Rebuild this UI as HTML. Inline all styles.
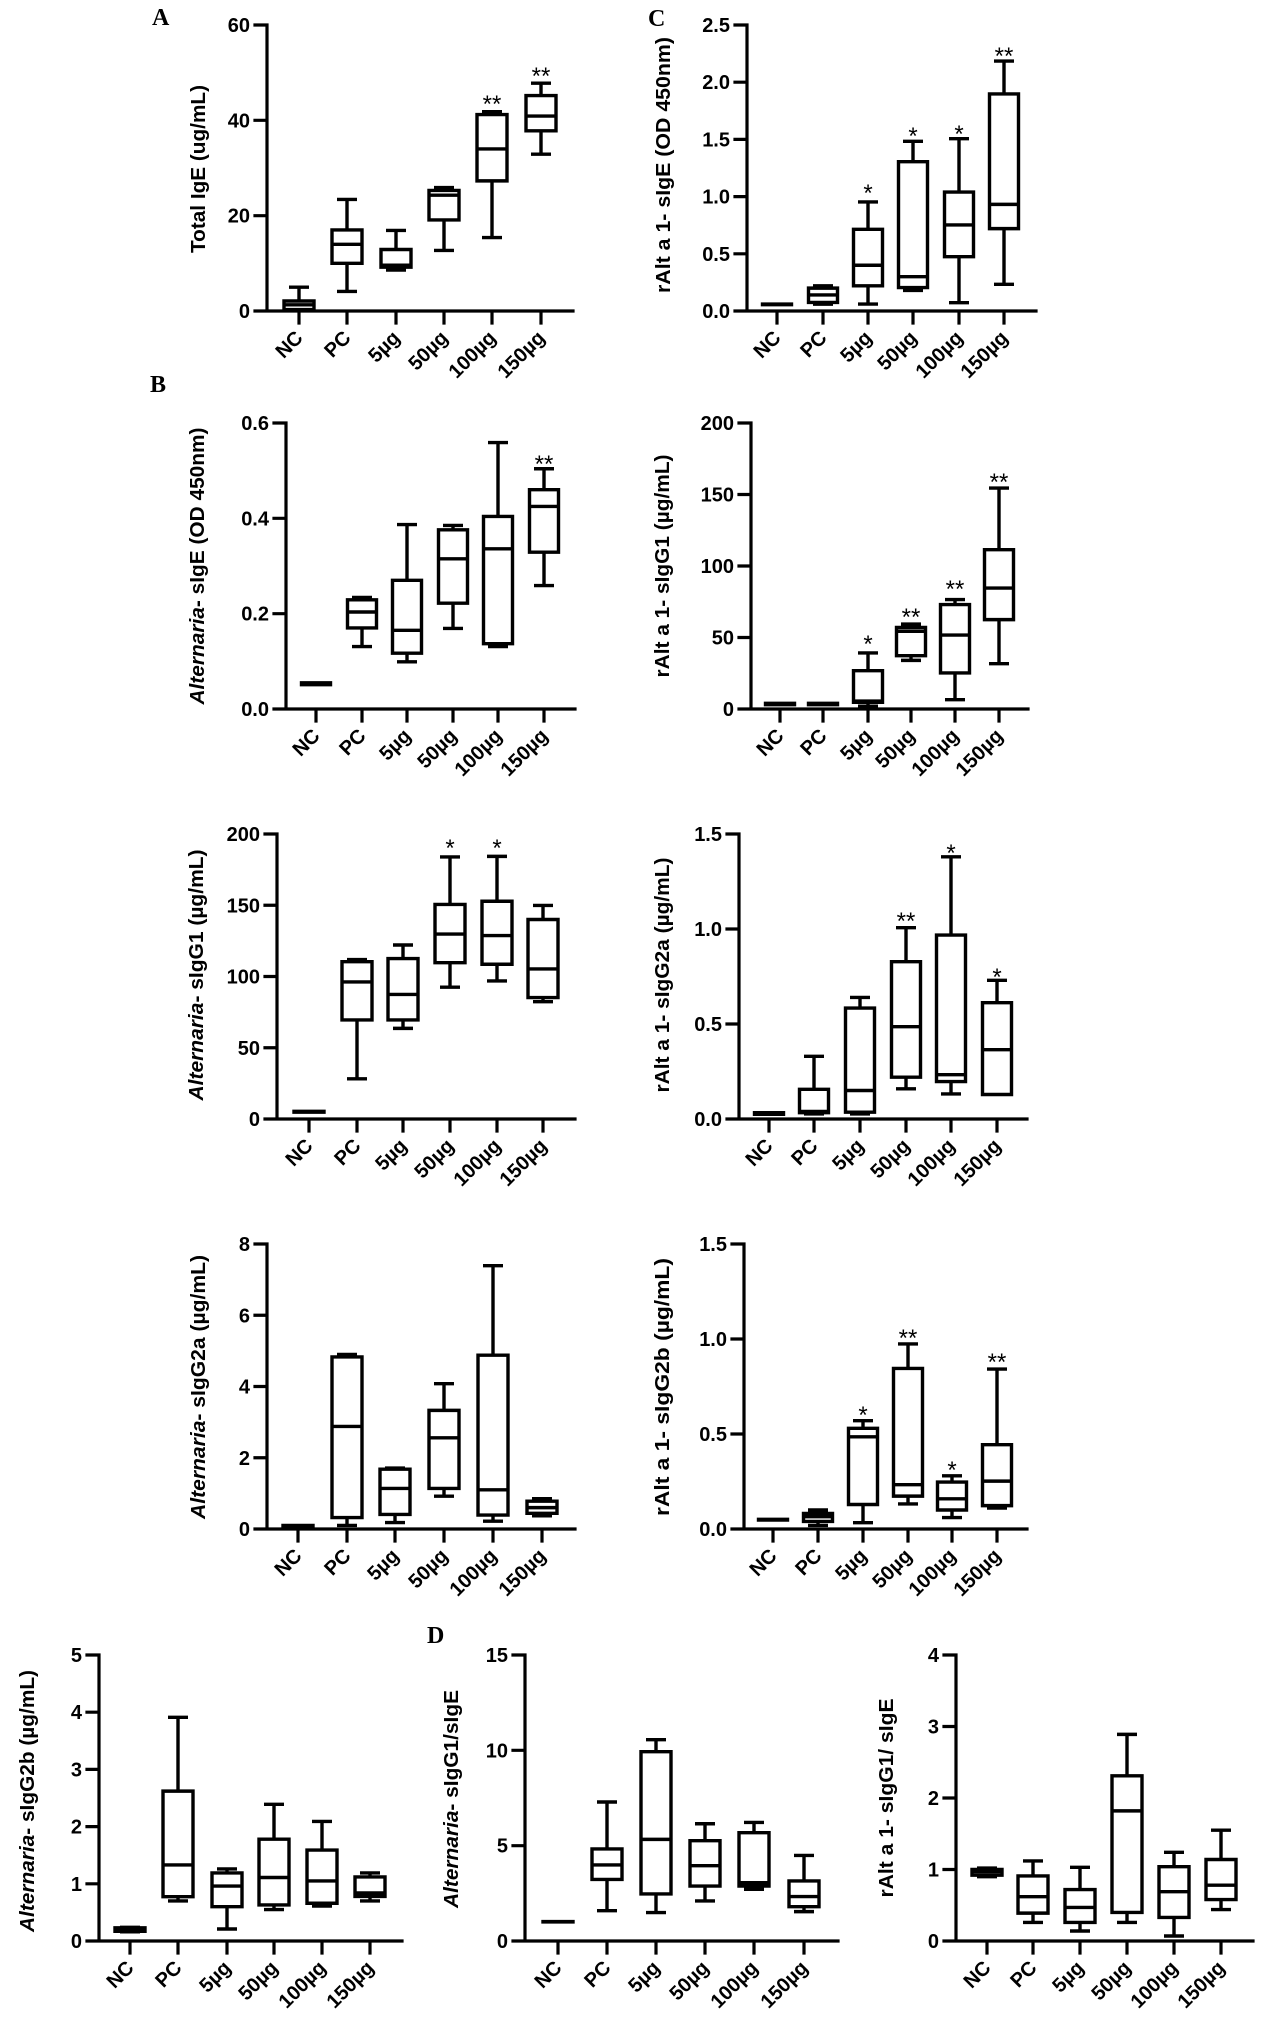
<!DOCTYPE html>
<html><head><meta charset="utf-8"><style>
html,body{margin:0;padding:0;background:#fff;}
svg{display:block;}
.bx path{fill:none;stroke:#000;stroke-width:3.4;vector-effect:non-scaling-stroke;stroke-linejoin:miter;}
.ax{fill:none;stroke:#000;stroke-width:3.2;stroke-linecap:square;}
.tl{font-family:"Liberation Sans",Arial,sans-serif;font-weight:bold;font-size:20px;text-anchor:end;fill:#000;}
.xl{font-family:"Liberation Sans",Arial,sans-serif;font-weight:bold;font-size:20px;text-anchor:end;fill:#000;}
.ti{font-family:"Liberation Sans",Arial,sans-serif;font-weight:bold;font-size:20px;text-anchor:middle;fill:#000;}
.st{font-family:"Liberation Sans",Arial,sans-serif;font-size:24px;text-anchor:middle;fill:#000;}
.lt{font-family:"Liberation Serif","Times New Roman",serif;font-weight:bold;font-size:24px;fill:#000;}
</style></head><body>
<svg width="1270" height="2023" viewBox="0 0 1270 2023" xmlns="http://www.w3.org/2000/svg">
<rect width="1270" height="2023" fill="#fff"/>

<!-- letters -->
<text class="lt" x="152" y="25">A</text>
<text class="lt" x="648" y="26">C</text>
<text class="lt" x="150" y="392">B</text>
<text class="lt" x="427" y="1643">D</text>

<!-- ============ Panel A ============ -->
<path class="ax" d="M267,25V311M255,311H573M255,25H267M255,120.3H267M255,215.7H267M299,311V323M347,311V323M396,311V323M444,311V323M492,311V323M541,311V323"/>
<text class="tl" x="250" y="318">0</text><text class="tl" x="250" y="222.7">20</text><text class="tl" x="250" y="127.3">40</text><text class="tl" x="250" y="32">60</text>
<g class="bx" transform="translate(0,311) scale(1,-4.7667)">
<path d="M284,0.3H314V2.1H284ZM299,0.2V0.3M299,2.1V5M289,0.2H309M289,5H309M284,1.3H314"/>
<path d="M332,10H362V17H332ZM347,4.1V10M347,17V23.4M337,4.1H357M337,23.4H357M332,14H362"/>
<path d="M381,9.2H411V12.9H381ZM396,8.6V9.2M396,12.9V16.9M386,8.6H406M386,16.9H406M381,9.6H411"/>
<path d="M429,19.1H459V25.3H429ZM444,12.7V19.1M444,25.3V25.9M434,12.7H454M434,25.9H454M429,24.3H459"/>
<path d="M477,27.3H507V41.2H477ZM492,15.4V27.3M492,41.2V41.8M482,15.4H502M482,41.8H502M477,34H507"/>
<path d="M526,37.8H556V45.2H526ZM541,32.9V37.8M541,45.2V47.8M531,32.9H551M531,47.8H551M526,40.9H556"/>
</g>
<text class="st" x="492" y="112">**</text><text class="st" x="541" y="84">**</text>
<text class="ti" transform="translate(205,169) rotate(-90)" textLength="168" lengthAdjust="spacingAndGlyphs">Total IgE (ug/mL)</text>
<g class="xl">
<text transform="translate(304,339) rotate(-45)">NC</text>
<text transform="translate(352,339) rotate(-45)">PC</text>
<text transform="translate(401,339) rotate(-45)">5µg</text>
<text transform="translate(449,339) rotate(-45)">50µg</text>
<text transform="translate(497,339) rotate(-45)">100µg</text>
<text transform="translate(546,339) rotate(-45)">150µg</text>
</g>

<!-- ============ Panel C ============ -->
<path class="ax" d="M747,25V311M735,311H1036M735,25H747M735,82.2H747M735,139.4H747M735,196.6H747M735,253.8H747M777,311V323M823,311V323M868,311V323M913,311V323M959,311V323M1004,311V323"/>
<text class="tl" x="730" y="318">0.0</text><text class="tl" x="730" y="260.8">0.5</text><text class="tl" x="730" y="203.6">1.0</text><text class="tl" x="730" y="146.4">1.5</text><text class="tl" x="730" y="89.2">2.0</text><text class="tl" x="730" y="32">2.5</text>
<g class="bx" transform="translate(0,311) scale(1,-114.4)">
<path d="M762.5,0.055H791.5V0.06H762.5ZM762.5,0.058H791.5"/>
<path d="M808.5,0.075H837.5V0.2H808.5ZM823,0.06V0.075M823,0.2V0.22M813,0.06H833M813,0.22H833M808.5,0.14H837.5"/>
<path d="M853.5,0.22H882.5V0.714H853.5ZM868,0.061V0.22M868,0.714V0.953M858,0.061H878M858,0.953H878M853.5,0.40H882.5"/>
<path d="M898.5,0.205H927.5V1.305H898.5ZM913,0.18V0.205M913,1.305V1.483M903,0.18H923M903,1.483H923M898.5,0.30H927.5"/>
<path d="M944.5,0.475H973.5V1.04H944.5ZM959,0.073V0.475M959,1.04V1.506M949,0.073H969M949,1.506H969M944.5,0.752H973.5"/>
<path d="M989.5,0.72H1018.5V1.897H989.5ZM1004,0.233V0.72M1004,1.897V2.185M994,0.233H1014M994,2.185H1014M989.5,0.932H1018.5"/>
</g>
<text class="st" x="868" y="201">*</text><text class="st" x="913" y="144">*</text><text class="st" x="959" y="142">*</text><text class="st" x="1004" y="64">**</text>
<text class="ti" transform="translate(670,165) rotate(-90)" textLength="256" lengthAdjust="spacingAndGlyphs">rAlt a 1- sIgE (OD 450nm)</text>
<g class="xl">
<text transform="translate(782,339) rotate(-45)">NC</text>
<text transform="translate(828,339) rotate(-45)">PC</text>
<text transform="translate(873,339) rotate(-45)">5µg</text>
<text transform="translate(918,339) rotate(-45)">50µg</text>
<text transform="translate(964,339) rotate(-45)">100µg</text>
<text transform="translate(1009,339) rotate(-45)">150µg</text>
</g>

<!-- ============ Panel B sIgE ============ -->
<path class="ax" d="M286,423V709M274,709H575M274,423H286M274,518.33H286M274,613.67H286M316,709V721M362,709V721M407,709V721M453,709V721M498,709V721M544,709V721"/>
<text class="tl" x="269" y="716">0.0</text><text class="tl" x="269" y="620.7">0.2</text><text class="tl" x="269" y="525.3">0.4</text><text class="tl" x="269" y="430">0.6</text>
<g class="bx" transform="translate(0,709) scale(1,-476.67)">
<path d="M301.5,0.051H330.5V0.055H301.5ZM301.5,0.053H330.5"/>
<path d="M347.5,0.170H376.5V0.229H347.5ZM362,0.131V0.170M362,0.229V0.234M352,0.131H372M352,0.234H372M347.5,0.2035H376.5"/>
<path d="M392.5,0.117H421.5V0.27H392.5ZM407,0.099V0.117M407,0.27V0.387M397,0.099H417M397,0.387H417M392.5,0.165H421.5"/>
<path d="M438.5,0.222H467.5V0.376H438.5ZM453,0.169V0.222M453,0.376V0.385M443,0.169H463M443,0.385H463M438.5,0.315H467.5"/>
<path d="M483.5,0.137H512.5V0.404H483.5ZM498,0.131V0.137M498,0.404V0.559M488,0.131H508M488,0.559H508M483.5,0.336H512.5"/>
<path d="M529.5,0.329H558.5V0.46H529.5ZM544,0.259V0.329M544,0.46V0.504M534,0.259H554M534,0.504H554M529.5,0.425H558.5"/>
</g>
<text class="st" x="544" y="472">**</text>
<text class="ti" transform="translate(204,566) rotate(-90)" textLength="277" lengthAdjust="spacingAndGlyphs"><tspan font-style="italic">Alternaria</tspan>- sIgE (OD 450nm)</text>
<g class="xl">
<text transform="translate(321,737) rotate(-45)">NC</text>
<text transform="translate(367,737) rotate(-45)">PC</text>
<text transform="translate(412,737) rotate(-45)">5µg</text>
<text transform="translate(458,737) rotate(-45)">50µg</text>
<text transform="translate(503,737) rotate(-45)">100µg</text>
<text transform="translate(549,737) rotate(-45)">150µg</text>
</g>

<!-- ============ Row2 right rAlt sIgG1 ============ -->
<path class="ax" d="M751,423V709M739,709H1028M739,423H751M739,494.5H751M739,566H751M739,637.5H751M780,709V721M823,709V721M868,709V721M911,709V721M955,709V721M999,709V721"/>
<text class="tl" x="734" y="716">0</text><text class="tl" x="734" y="644.5">50</text><text class="tl" x="734" y="573">100</text><text class="tl" x="734" y="501.5">150</text><text class="tl" x="734" y="430">200</text>
<g class="bx" transform="translate(0,709) scale(1,-1.43)">
<path d="M765.5,3H794.5V4H765.5ZM765.5,3.5H794.5"/>
<path d="M808.5,3H837.5V4H808.5ZM808.5,3.5H837.5"/>
<path d="M853.5,4.7H882.5V26.8H853.5ZM868,2V4.7M868,26.8V39.2M858,2H878M858,39.2H878M853.5,5.5H882.5"/>
<path d="M896.5,37.3H925.5V57H896.5ZM911,34V37.3M911,57V59.4M901,34H921M901,59.4H921M896.5,54.3H925.5"/>
<path d="M940.5,25.2H969.5V73H940.5ZM955,6.5V25.2M955,73V76.5M945,6.5H965M945,76.5H965M940.5,51.7H969.5"/>
<path d="M984.5,62.5H1013.5V111.4H984.5ZM999,31.7V62.5M999,111.4V154.5M989,31.7H1009M989,154.5H1009M984.5,84.6H1013.5"/>
</g>
<text class="st" x="868" y="652">*</text><text class="st" x="911" y="625">**</text><text class="st" x="955" y="597">**</text><text class="st" x="999" y="490">**</text>
<text class="ti" transform="translate(669,566) rotate(-90)" textLength="223" lengthAdjust="spacingAndGlyphs">rAlt a 1- sIgG1 (µg/mL)</text>
<g class="xl">
<text transform="translate(785,737) rotate(-45)">NC</text>
<text transform="translate(828,737) rotate(-45)">PC</text>
<text transform="translate(873,737) rotate(-45)">5µg</text>
<text transform="translate(916,737) rotate(-45)">50µg</text>
<text transform="translate(960,737) rotate(-45)">100µg</text>
<text transform="translate(1004,737) rotate(-45)">150µg</text>
</g>

<!-- ============ Row3 left Alternaria sIgG1 ============ -->
<path class="ax" d="M277,834V1119M265,1119H575M265,834H277M265,905.25H277M265,976.5H277M265,1047.75H277M309,1119V1131M357,1119V1131M403,1119V1131M450,1119V1131M497,1119V1131M543,1119V1131"/>
<text class="tl" x="260" y="1126">0</text><text class="tl" x="260" y="1054.75">50</text><text class="tl" x="260" y="983.5">100</text><text class="tl" x="260" y="912.25">150</text><text class="tl" x="260" y="841">200</text>
<g class="bx" transform="translate(0,1119) scale(1,-1.425)">
<path d="M294,4.8H324V5.4H294ZM294,5.1H324"/>
<path d="M342,69.5H372V110.4H342ZM357,28.2V69.5M357,110.4V111.9M347,28.2H367M347,111.9H367M342,96.2H372"/>
<path d="M388,69.5H418V112.6H388ZM403,63.6V69.5M403,112.6V122.1M393,63.6H413M393,122.1H413M388,87.4H418"/>
<path d="M435,109.7H465V150.6H435ZM450,92.5V109.7M450,150.6V183.9M440,92.5H460M440,183.9H460M435,129.8H465"/>
<path d="M482,108.6H512V152.8H482ZM497,96.9V108.6M497,152.8V184.3M487,96.9H507M487,184.3H507M482,128.7H512"/>
<path d="M528,85.2H558V140H528ZM543,82.3V85.2M543,140V149.9M533,82.3H553M533,149.9H553M528,105.3H558"/>
</g>
<text class="st" x="450" y="856">*</text><text class="st" x="497" y="856">*</text>
<text class="ti" transform="translate(203,975) rotate(-90)" textLength="251" lengthAdjust="spacingAndGlyphs"><tspan font-style="italic">Alternaria</tspan>- sIgG1 (µg/mL)</text>
<g class="xl">
<text transform="translate(314,1147) rotate(-45)">NC</text>
<text transform="translate(362,1147) rotate(-45)">PC</text>
<text transform="translate(408,1147) rotate(-45)">5µg</text>
<text transform="translate(455,1147) rotate(-45)">50µg</text>
<text transform="translate(502,1147) rotate(-45)">100µg</text>
<text transform="translate(548,1147) rotate(-45)">150µg</text>
</g>

<!-- ============ Row3 right rAlt sIgG2a ============ -->
<path class="ax" d="M739,834V1119M727,1119H1027M727,834H739M727,929H739M727,1024H739M769,1119V1131M814,1119V1131M860,1119V1131M906,1119V1131M951,1119V1131M997,1119V1131"/>
<text class="tl" x="722" y="1126">0.0</text><text class="tl" x="722" y="1031">0.5</text><text class="tl" x="722" y="936">1.0</text><text class="tl" x="722" y="841">1.5</text>
<g class="bx" transform="translate(0,1119) scale(1,-190)">
<path d="M754.5,0.025H783.5V0.033H754.5ZM754.5,0.03H783.5"/>
<path d="M799.5,0.033H828.5V0.156H799.5ZM814,0.027V0.033M814,0.156V0.33M804,0.027H824M804,0.33H824M799.5,0.04H828.5"/>
<path d="M845.5,0.036H874.5V0.584H845.5ZM860,0.027V0.036M860,0.584V0.64M850,0.027H870M850,0.64H870M845.5,0.15H874.5"/>
<path d="M891.5,0.22H920.5V0.828H891.5ZM906,0.159V0.22M906,0.828V1.007M896,0.159H916M896,1.007H916M891.5,0.486H920.5"/>
<path d="M936.5,0.197H965.5V0.968H936.5ZM951,0.132V0.197M951,0.968V1.38M941,0.132H961M941,1.38H961M936.5,0.233H965.5"/>
<path d="M982.5,0.129H1011.5V0.612H982.5ZM997,0.612V0.73M987,0.129H1007M987,0.73H1007M982.5,0.365H1011.5"/>
</g>
<text class="st" x="906" y="929">**</text><text class="st" x="951" y="861">*</text><text class="st" x="997" y="985">*</text>
<text class="ti" transform="translate(669,975) rotate(-90)" textLength="235" lengthAdjust="spacingAndGlyphs">rAlt a 1- sIgG2a (µg/mL)</text>
<g class="xl">
<text transform="translate(774,1147) rotate(-45)">NC</text>
<text transform="translate(819,1147) rotate(-45)">PC</text>
<text transform="translate(865,1147) rotate(-45)">5µg</text>
<text transform="translate(911,1147) rotate(-45)">50µg</text>
<text transform="translate(956,1147) rotate(-45)">100µg</text>
<text transform="translate(1002,1147) rotate(-45)">150µg</text>
</g>

<!-- ============ Row4 left Alternaria sIgG2a ============ -->
<path class="ax" d="M267,1244V1529M255,1529H575M255,1244H267M255,1315.25H267M255,1386.5H267M255,1457.75H267M298,1529V1541M347,1529V1541M395,1529V1541M444,1529V1541M493,1529V1541M542,1529V1541"/>
<text class="tl" x="250" y="1536">0</text><text class="tl" x="250" y="1464.75">2</text><text class="tl" x="250" y="1393.5">4</text><text class="tl" x="250" y="1322.25">6</text><text class="tl" x="250" y="1251">8</text>
<g class="bx" transform="translate(0,1529) scale(1,-35.625)">
<path d="M283,0.08H313V0.1H283ZM283,0.09H313"/>
<path d="M332,0.32H362V4.83H332ZM347,0.1V0.32M347,4.83V4.9M337,0.1H357M337,4.9H357M332,2.88H362"/>
<path d="M380,0.41H410V1.68H380ZM395,0.18V0.41M395,1.68V1.71M385,0.18H405M385,1.71H405M380,1.14H410"/>
<path d="M429,1.14H459V3.33H429ZM444,0.92V1.14M444,3.33V4.08M434,0.92H454M434,4.08H454M429,2.56H459"/>
<path d="M478,0.39H508V4.88H478ZM493,0.22V0.39M493,4.88V7.39M483,0.22H503M483,7.39H503M478,1.1H508"/>
<path d="M527,0.44H557V0.78H527ZM542,0.37V0.44M542,0.78V0.85M532,0.37H552M532,0.85H552M527,0.6H557"/>
</g>
<text class="ti" transform="translate(205,1387) rotate(-90)" textLength="264" lengthAdjust="spacingAndGlyphs"><tspan font-style="italic">Alternaria</tspan>- sIgG2a (µg/mL)</text>
<g class="xl">
<text transform="translate(303,1557) rotate(-45)">NC</text>
<text transform="translate(352,1557) rotate(-45)">PC</text>
<text transform="translate(400,1557) rotate(-45)">5µg</text>
<text transform="translate(449,1557) rotate(-45)">50µg</text>
<text transform="translate(498,1557) rotate(-45)">100µg</text>
<text transform="translate(547,1557) rotate(-45)">150µg</text>
</g>

<!-- ============ Row4 right rAlt sIgG2b ============ -->
<path class="ax" d="M744,1244V1529M732,1529H1027M732,1244H744M732,1339H744M732,1434H744M773,1529V1541M818,1529V1541M863,1529V1541M908,1529V1541M952,1529V1541M997,1529V1541"/>
<text class="tl" x="727" y="1536">0.0</text><text class="tl" x="727" y="1441">0.5</text><text class="tl" x="727" y="1346">1.0</text><text class="tl" x="727" y="1251">1.5</text>
<g class="bx" transform="translate(0,1529) scale(1,-190)">
<path d="M758.5,0.047H787.5V0.051H758.5ZM758.5,0.049H787.5"/>
<path d="M803.5,0.04H832.5V0.082H803.5ZM818,0.019V0.04M818,0.082V0.1M808,0.019H828M808,0.1H828M803.5,0.065H832.5"/>
<path d="M848.5,0.129H877.5V0.53H848.5ZM863,0.033V0.129M863,0.53V0.57M853,0.033H873M853,0.57H873M848.5,0.485H877.5"/>
<path d="M893.5,0.173H922.5V0.845H893.5ZM908,0.132V0.173M908,0.845V0.974M898,0.132H918M898,0.974H918M893.5,0.233H922.5"/>
<path d="M937.5,0.1H966.5V0.247H937.5ZM952,0.06V0.1M952,0.247V0.28M942,0.06H962M942,0.28H962M937.5,0.159H966.5"/>
<path d="M982.5,0.123H1011.5V0.444H982.5ZM997,0.11V0.123M997,0.444V0.842M987,0.11H1007M987,0.842H1007M982.5,0.252H1011.5"/>
</g>
<text class="st" x="863" y="1423">*</text><text class="st" x="908" y="1346">**</text><text class="st" x="952" y="1478">*</text><text class="st" x="997" y="1370">**</text>
<text class="ti" transform="translate(669,1387) rotate(-90)" textLength="258" lengthAdjust="spacingAndGlyphs">rAlt a 1- sIgG2b (µg/mL)</text>
<g class="xl">
<text transform="translate(778,1557) rotate(-45)">NC</text>
<text transform="translate(823,1557) rotate(-45)">PC</text>
<text transform="translate(868,1557) rotate(-45)">5µg</text>
<text transform="translate(913,1557) rotate(-45)">50µg</text>
<text transform="translate(957,1557) rotate(-45)">100µg</text>
<text transform="translate(1002,1557) rotate(-45)">150µg</text>
</g>

<!-- ============ Row5 left Alternaria sIgG2b ============ -->
<path class="ax" d="M99,1655V1941M87,1941H402M87,1655H99M87,1712.2H99M87,1769.4H99M87,1826.6H99M87,1883.8H99M130,1941V1953M178,1941V1953M227,1941V1953M274,1941V1953M322,1941V1953M370,1941V1953"/>
<text class="tl" x="82" y="1948">0</text><text class="tl" x="82" y="1890.8">1</text><text class="tl" x="82" y="1833.6">2</text><text class="tl" x="82" y="1776.4">3</text><text class="tl" x="82" y="1719.2">4</text><text class="tl" x="82" y="1662">5</text>
<g class="bx" transform="translate(0,1941) scale(1,-57.2)">
<path d="M115,0.17H145V0.23H115ZM130,0.16V0.17M130,0.23V0.24M120,0.16H140M120,0.24H140M115,0.2H145"/>
<path d="M163,0.775H193V2.62H163ZM178,0.70V0.775M178,2.62V3.91M168,0.70H188M168,3.91H188M163,1.33H193"/>
<path d="M212,0.6H242V1.19H212ZM227,0.21V0.6M227,1.19V1.26M217,0.21H237M217,1.26H237M212,0.96H242"/>
<path d="M259,0.63H289V1.78H259ZM274,0.55V0.63M274,1.78V2.39M264,0.55H284M264,2.39H284M259,1.11H289"/>
<path d="M307,0.66H337V1.59H307ZM322,0.61V0.66M322,1.59V2.09M312,0.61H332M312,2.09H332M307,1.05H337"/>
<path d="M355,0.78H385V1.12H355ZM370,0.70V0.78M370,1.12V1.19M360,0.70H380M360,1.19H380M355,0.84H385"/>
</g>
<text class="ti" transform="translate(34,1801) rotate(-90)" textLength="262" lengthAdjust="spacingAndGlyphs"><tspan font-style="italic">Alternaria</tspan>- sIgG2b (µg/mL)</text>
<g class="xl">
<text transform="translate(135,1969) rotate(-45)">NC</text>
<text transform="translate(183,1969) rotate(-45)">PC</text>
<text transform="translate(232,1969) rotate(-45)">5µg</text>
<text transform="translate(279,1969) rotate(-45)">50µg</text>
<text transform="translate(327,1969) rotate(-45)">100µg</text>
<text transform="translate(375,1969) rotate(-45)">150µg</text>
</g>

<!-- ============ Row5 middle D Alternaria sIgG1/sIgE ============ -->
<path class="ax" d="M525,1655V1941M513,1941H838M513,1655H525M513,1750.33H525M513,1845.67H525M558,1941V1953M607,1941V1953M656,1941V1953M705,1941V1953M754,1941V1953M804,1941V1953"/>
<text class="tl" x="508" y="1948">0</text><text class="tl" x="508" y="1852.67">5</text><text class="tl" x="508" y="1757.33">10</text><text class="tl" x="508" y="1662">15</text>
<g class="bx" transform="translate(0,1941) scale(1,-19.0667)">
<path d="M543,1.0H573V1.02H543ZM543,1.01H573"/>
<path d="M592,3.23H622V4.83H592ZM607,1.59V3.23M607,4.83V7.29M597,1.59H617M597,7.29H617M592,3.99H622"/>
<path d="M641,2.47H671V9.93H641ZM656,1.49V2.47M656,9.93V10.56M646,1.49H666M646,10.56H666M641,5.33H671"/>
<path d="M690,2.88H720V5.26H690ZM705,2.1V2.88M705,5.26V6.15M695,2.1H715M695,6.15H715M690,3.95H720"/>
<path d="M739,2.88H769V5.68H739ZM754,2.71V2.88M754,5.68V6.22M744,2.71H764M744,6.22H764M739,3.06H769"/>
<path d="M789,1.8H819V3.15H789ZM804,1.54V1.8M804,3.15V4.49M794,1.54H814M794,4.49H814M789,2.33H819"/>
</g>
<text class="ti" transform="translate(458,1799) rotate(-90)" textLength="218" lengthAdjust="spacingAndGlyphs"><tspan font-style="italic">Alternaria</tspan>- sIgG1/sIgE</text>
<g class="xl">
<text transform="translate(563,1969) rotate(-45)">NC</text>
<text transform="translate(612,1969) rotate(-45)">PC</text>
<text transform="translate(661,1969) rotate(-45)">5µg</text>
<text transform="translate(710,1969) rotate(-45)">50µg</text>
<text transform="translate(759,1969) rotate(-45)">100µg</text>
<text transform="translate(809,1969) rotate(-45)">150µg</text>
</g>

<!-- ============ Row5 right rAlt sIgG1/sIgE ============ -->
<path class="ax" d="M956,1655V1941M944,1941H1253M944,1655H956M944,1726.5H956M944,1798H956M944,1869.5H956M987,1941V1953M1033,1941V1953M1080,1941V1953M1127,1941V1953M1174,1941V1953M1221,1941V1953"/>
<text class="tl" x="939" y="1948">0</text><text class="tl" x="939" y="1876.5">1</text><text class="tl" x="939" y="1805">2</text><text class="tl" x="939" y="1733.5">3</text><text class="tl" x="939" y="1662">4</text>
<g class="bx" transform="translate(0,1941) scale(1,-71.5)">
<path d="M972,0.92H1002V1.0H972ZM987,0.9V0.92M987,1.0V1.02M977,0.9H997M977,1.02H997M972,0.97H1002"/>
<path d="M1018,0.39H1048V0.91H1018ZM1033,0.26V0.39M1033,0.91V1.12M1023,0.26H1043M1023,1.12H1043M1018,0.62H1048"/>
<path d="M1065,0.26H1095V0.72H1065ZM1080,0.14V0.26M1080,0.72V1.03M1070,0.14H1090M1070,1.03H1090M1065,0.47H1095"/>
<path d="M1112,0.4H1142V2.31H1112ZM1127,0.26V0.4M1127,2.31V2.89M1117,0.26H1137M1117,2.89H1137M1112,1.82H1142"/>
<path d="M1159,0.33H1189V1.04H1159ZM1174,0.07V0.33M1174,1.04V1.24M1164,0.07H1184M1164,1.24H1184M1159,0.69H1189"/>
<path d="M1206,0.58H1236V1.14H1206ZM1221,0.44V0.58M1221,1.14V1.55M1211,0.44H1231M1211,1.55H1231M1206,0.78H1236"/>
</g>
<text class="ti" transform="translate(893,1798) rotate(-90)" textLength="199" lengthAdjust="spacingAndGlyphs">rAlt a 1- sIgG1/ sIgE</text>
<g class="xl">
<text transform="translate(992,1969) rotate(-45)">NC</text>
<text transform="translate(1038,1969) rotate(-45)">PC</text>
<text transform="translate(1085,1969) rotate(-45)">5µg</text>
<text transform="translate(1132,1969) rotate(-45)">50µg</text>
<text transform="translate(1179,1969) rotate(-45)">100µg</text>
<text transform="translate(1226,1969) rotate(-45)">150µg</text>
</g>
</svg>
</body></html>
